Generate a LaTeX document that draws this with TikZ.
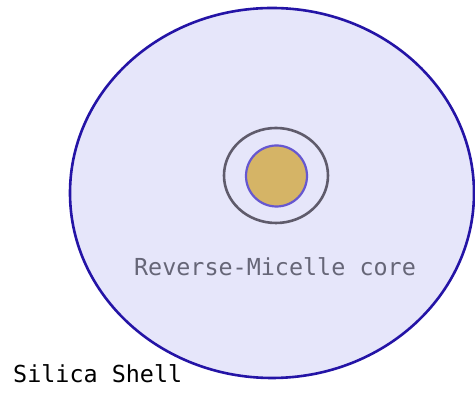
\documentclass[tikz,border=0pt]{standalone}
\usepackage{fontspec}
\setmonofont{DejaVu Sans Mono}
\usetikzlibrary{shapes.geometric}
\definecolor{shellfill}{HTML}{E6E6FA}
\definecolor{shelldraw}{HTML}{2414A6}
\definecolor{ringgray}{HTML}{5F5B6B}
\definecolor{coregold}{HTML}{D5B466}
\definecolor{coreline}{HTML}{6657D0}
\definecolor{labelgray}{HTML}{666677}
\begin{document}
\begin{tikzpicture}[x=1pt,y=1pt,
  shell/.style={ellipse,fill=shellfill,draw=shelldraw,line width=2.6pt,inner sep=0pt,minimum width=404pt,minimum height=370pt},
  ring/.style={ellipse,draw=ringgray,line width=2.6pt,inner sep=0pt,minimum width=104pt,minimum height=95pt},
  core/.style={circle,fill=coregold,draw=coreline,line width=2.2pt,inner sep=0pt,minimum size=61pt},
  lbl/.style={font=\ttfamily\fontsize{23.4}{27}\selectfont,inner sep=0pt}]
\useasboundingbox (0,0) rectangle (475,393);
\clip (0,0) rectangle (475,393);
\fill[white] (0,0) rectangle (475,393);
\node[shell] (shellnode) at (272,200) {};
\node[ring] (ringnode) at (276,217.5) {};
\node[core] (corenode) at (276.5,217) {};
\node[lbl,text=labelgray,anchor=base] (corelabel) at (275,117.5) {Reverse-Micelle core};
\node[lbl,text=black,anchor=base west] (shelllabel) at (13,10) {Silica Shell};
\end{tikzpicture}
\end{document}
